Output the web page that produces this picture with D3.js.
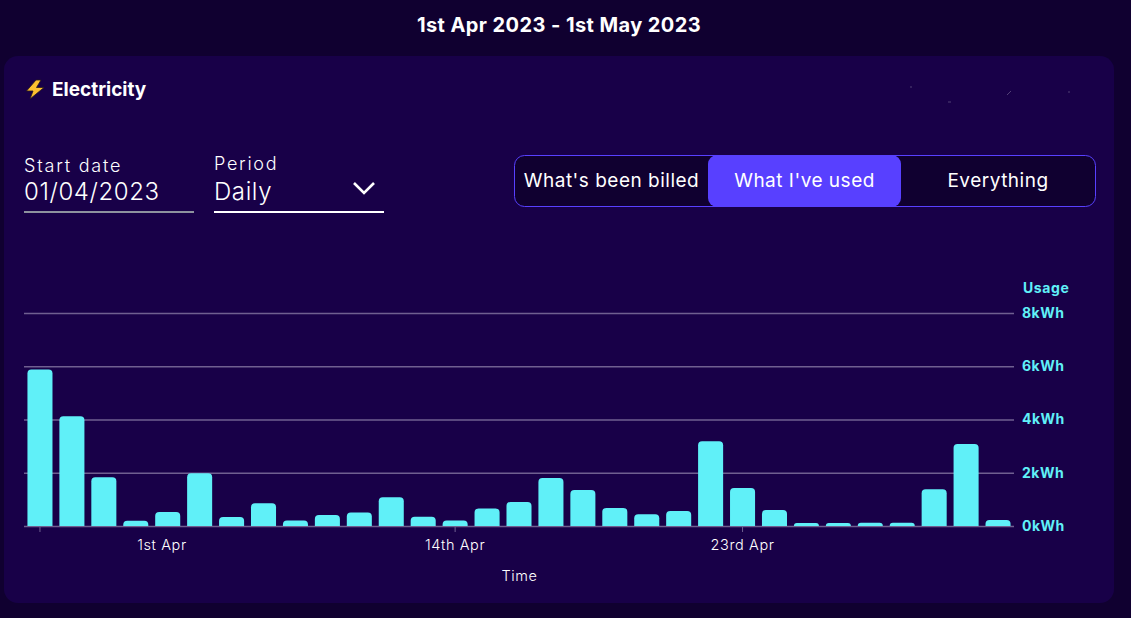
<!DOCTYPE html>
<html>
<head>
<meta charset="utf-8">
<script src="https://cdn.jsdelivr.net/npm/d3@7"></script>
<style>
  html, body { margin: 0; padding: 0; background: #100030; overflow: hidden; }
  svg { display: block; }
  text { font-family: Inter, "Open Sans", sans-serif; fill: #fff; }
</style>
</head>
<body>
<svg id="chart" width="1131" height="618"></svg>
<script>
const days = [
  '1st Apr', '2nd Apr', '3rd Apr', '4th Apr', '5th Apr', '6th Apr', '7th Apr', '8th Apr',
  '9th Apr', '10th Apr', '11th Apr', '12th Apr', '13th Apr', '14th Apr', '15th Apr', '16th Apr',
  '17th Apr', '18th Apr', '19th Apr', '20th Apr', '21st Apr', '22nd Apr', '23rd Apr', '24th Apr',
  '25th Apr', '26th Apr', '27th Apr', '28th Apr', '29th Apr', '30th Apr', '1st May'
];
const usage = [
  5.88, 4.12, 1.83, 0.2, 0.53, 1.98, 0.34, 0.85, 0.21, 0.41, 0.51,
  1.08, 0.35, 0.21, 0.66, 0.9, 1.8, 1.35, 0.68, 0.44, 0.56,
  3.18, 1.43, 0.6, 0.11, 0.11, 0.12, 0.12, 1.38, 3.08, 0.23
];
const yTicks = [0, 2, 4, 6, 8];
const xTicks = ['1st Apr', '14th Apr', '23rd Apr'];
const toggles = ["What's been billed", "What I've used", 'Everything'];

const colors = {
  page: '#100030',
  card: '#180048',
  bar: '#60f0f8',
  accent: '#5840ff',
  grid: '#6f5f90'
};

const svg = d3.select('#chart');

// card
svg.append('rect')
  .attr('x', 4).attr('y', 56)
  .attr('width', 1110).attr('height', 547)
  .attr('rx', 14)
  .attr('fill', colors.card);

// headings
svg.append('text')
  .attr('x', 559).attr('y', 32)
  .attr('text-anchor', 'middle')
  .attr('font-size', 20).attr('font-weight', 700)
  .attr('letter-spacing', 0.42)
  .text('1st Apr 2023 - 1st May 2023');

svg.append('text')
  .attr('x', 52).attr('y', 96)
  .attr('font-size', 19).attr('font-weight', 700)
  .text('Electricity');

// lightning bolt
svg.append('path')
  .attr('d', 'M36,80 L26.5,91 L33,91 L30,99 L44,87.5 L36.5,87.5 L41,80 Z')
  .attr('fill', '#fdc030')
  .attr('stroke', '#2a1a20')
  .attr('stroke-width', 0.8);

// leftovers of the blanked-out account text, top right of the card
svg.append('path')
  .attr('d', 'M1007,95 L1011,91 M910,87 h2 M948,102 h3 M1068,92 h2')
  .attr('stroke', '#8f84a8')
  .attr('stroke-width', 0.7)
  .attr('opacity', 0.7);

// form fields
const drawField = function(x, label, labelY, labelSpacing, value, underline) {
  svg.append('text')
    .attr('x', x).attr('y', labelY)
    .attr('font-size', 18).attr('letter-spacing', labelSpacing).attr('font-weight', 300)
    .text(label);
  svg.append('text')
    .attr('x', x).attr('y', 200)
    .attr('font-size', 24).attr('letter-spacing', 0.6).attr('font-weight', 300)
    .text(value);
  svg.append('line')
    .attr('x1', x).attr('x2', x + 170)
    .attr('y1', 212).attr('y2', 212)
    .attr('stroke', underline)
    .attr('stroke-width', 2);
};
drawField(24, 'Start date', 172, 1.8, '01/04/2023', '#8d929e');
drawField(214, 'Period', 170, 1.7, 'Daily', '#fff');

svg.append('path')
  .attr('d', 'M354,183 L364,193 L374,183')
  .attr('fill', 'none')
  .attr('stroke', '#fff')
  .attr('stroke-width', 2.6);

// toggle
svg.append('rect')
  .attr('x', 514.5).attr('y', 155.5)
  .attr('width', 581).attr('height', 51)
  .attr('rx', 10)
  .attr('fill', colors.page)
  .attr('stroke', colors.accent);
svg.append('rect')
  .attr('x', 708).attr('y', 155)
  .attr('width', 193).attr('height', 52)
  .attr('rx', 9)
  .attr('fill', colors.accent);

const toggleX = d3.scaleOrdinal().domain(toggles).range([611.5, 804.5, 998]);
svg.selectAll('.toggle')
  .data(toggles)
  .enter()
  .append('text')
  .attr('class', 'toggle')
  .attr('x', d => toggleX(d))
  .attr('y', 187)
  .attr('text-anchor', 'middle')
  .attr('font-size', 19)
  .attr('letter-spacing', 0.5)
  .attr('font-weight', 400)
  .text(d => d);

// chart
const x = d3.scaleBand().domain(days).range([24, 1014]).paddingInner(0.216).paddingOuter(0.108);
const y = d3.scaleLinear().domain([0, 8]).range([526, 313]);

const yAxis = svg.append('g')
  .attr('transform', 'translate(1014,0)')
  .call(d3.axisRight(y)
    .tickValues(yTicks)
    .tickSize(-990)
    .tickPadding(8)
    .tickFormat(d => d + 'kWh'));
yAxis.select('.domain').remove();
yAxis.selectAll('line')
  .attr('stroke', colors.grid)
  .attr('stroke-width', 1.3);
yAxis.selectAll('text')
  .style('fill', colors.bar)
  .attr('font-size', 14)
  .attr('font-weight', 700)
  .attr('letter-spacing', 0.5)
  .style('font-family', 'Inter, sans-serif');

svg.append('text')
  .attr('x', 1023).attr('y', 293)
  .attr('font-size', 14).attr('font-weight', 700)
  .attr('letter-spacing', 0.6)
  .style('fill', colors.bar)
  .text('Usage');

const barPath = function(d, i) {
  const x0 = x(days[i]);
  const w = x.bandwidth();
  const top = y(d);
  const h = y(0) - top;
  const r = Math.min(4, h);
  return `M${x0},${y(0)} V${top + r} Q${x0},${top} ${x0 + r},${top} ` +
    `H${x0 + w - r} Q${x0 + w},${top} ${x0 + w},${top + r} V${y(0)} Z`;
};

svg.append('g')
  .selectAll('path')
  .data(usage)
  .enter()
  .append('path')
  .attr('d', barPath)
  .attr('fill', colors.bar);

const xAxis = svg.append('g')
  .attr('transform', 'translate(0,526)')
  .call(d3.axisBottom(x)
    .tickValues(xTicks)
    .tickSize(6)
    .tickPadding(8));
xAxis.select('.domain').remove();
xAxis.selectAll('line').attr('stroke', colors.grid);
xAxis.selectAll('text')
  .style('fill', '#fff')
  .attr('font-size', 14.5)
  .attr('letter-spacing', 0.6)
  .attr('font-weight', 300)
  .style('font-family', 'Inter, sans-serif');
// the first label sits away from its tick in the original
xAxis.selectAll('text').filter(d => d === xTicks[0]).attr('dx', 122);

svg.append('text')
  .attr('x', 519.5).attr('y', 581)
  .attr('text-anchor', 'middle')
  .attr('font-size', 14.5).attr('letter-spacing', 0.6).attr('font-weight', 300)
  .text('Time');
</script>
</body>
</html>
